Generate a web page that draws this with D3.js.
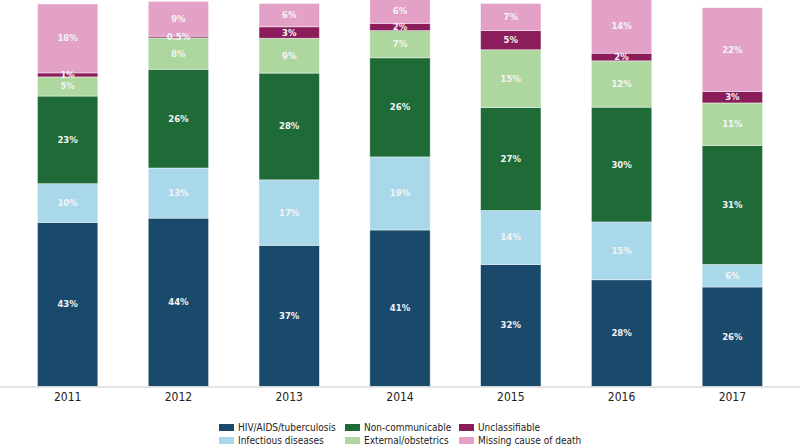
<!DOCTYPE html>
<html>
<head>
<meta charset="utf-8">
<script src="https://d3js.org/d3.v7.min.js"></script>
<style>
  body { margin: 0; background: #fff; }
  svg { display: block; font-family: "DejaVu Sans", Verdana, sans-serif; }
  .cond { font-family: "DejaVu Sans Condensed", "DejaVu Sans", sans-serif; font-stretch: condensed; }
</style>
</head>
<body>
<svg width="800" height="447"></svg>
<script>
var svg = d3.select("svg"),
    width = +svg.attr("width"),
    height = +svg.attr("height");

// data, share of deaths (%) per year
var years = ["2011", "2012", "2013", "2014", "2015", "2016", "2017"];
var causes = ["HIV/AIDS/tuberculosis", "Infectious diseases", "Non-communicable",
              "External/obstetrics", "Unclassifiable", "Missing cause of death"];
var hiv          = [42.9, 44.0, 36.9, 40.9, 31.9, 27.9, 26.0];
var infectious   = [10.1, 13.1, 17.1, 19.1, 14.1, 15.1, 5.9];
var noncomm      = [22.9, 25.8, 27.9, 25.9, 26.9, 30.0, 31.1];
var external     = [5.0, 8.2, 9.1, 7.1, 15.1, 12.1, 11.1];
var unclass      = [1.05, 0.45, 3.0, 1.9, 5.0, 2.0, 3.0];
var missing      = [18.0, 9.1, 6.1, 6.2, 7.1, 14.1, 21.9];
var labels = [
  ["43%", "44%", "37%", "41%", "32%", "28%", "26%"],
  ["10%", "13%", "17%", "19%", "14%", "15%", "6%"],
  ["23%", "26%", "28%", "26%", "27%", "30%", "31%"],
  ["5%", "8%", "9%", "7%", "15%", "12%", "11%"],
  ["1%", "0.5%", "3%", "2%", "5%", "2%", "3%"],
  ["18%", "9%", "6%", "6%", "7%", "14%", "22%"]
];
var colors = ["#1a4a6b", "#a9d8ea", "#1f6b38", "#add79e", "#8c1d5b", "#e3a1c7"];

var series_values = [hiv, infectious, noncomm, external, unclass, missing];

var table = years.map(function(y, i) {
  var row = { year: y };
  causes.forEach(function(c, k) { row[c] = series_values[k][i]; });
  return row;
});

var stacked = d3.stack().keys(causes)(table);

var x = d3.scaleBand()
    .domain(years)
    .range([0, width])
    .paddingInner(0.455)
    .paddingOuter(0.338);

var y = d3.scaleLinear()
    .domain([0, 101])
    .range([386.5, 0]);

var color = d3.scaleOrdinal().domain(causes).range(colors);

var layers = svg.append("g").attr("id", "bars")
    .selectAll("g")
    .data(stacked)
    .enter().append("g")
    .attr("fill", function(d) { return color(d.key); });

layers.selectAll("rect")
    .data(function(d) { return d; })
    .enter().append("rect")
    .attr("x", function(d) { return x(d.data.year); })
    .attr("y", function(d) { return y(d[1]); })
    .attr("width", x.bandwidth())
    .attr("height", function(d) { return y(d[0]) - y(d[1]); })
    .attr("stroke", "#ffffff")
    .attr("stroke-opacity", 0.55)
    .attr("stroke-width", 0.8);

// value labels
svg.append("g").attr("id", "labels")
    .selectAll("g")
    .data(stacked)
    .enter().append("g")
    .each(function(layer, k) {
      d3.select(this).selectAll("text")
        .data(layer)
        .enter().append("text")
        .attr("x", function(d) { return x(d.data.year) + x.bandwidth() / 2; })
        .attr("y", function(d) { return (y(d[0]) + y(d[1])) / 2; })
        .attr("dy", "0.35em")
        .attr("text-anchor", "middle")
        .attr("font-size", "8.5px")
        .attr("font-weight", "bold")
        .attr("fill", "#f4f4f4")
        .text(function(d, i) { return labels[k][i]; });
    });

// baseline
svg.append("line")
    .attr("x1", 0).attr("x2", width)
    .attr("y1", y(0) + 0.5).attr("y2", y(0) + 0.5)
    .attr("stroke", "#dcdcdc")
    .attr("stroke-width", 1.5);

// x axis
var xAxis = svg.append("g")
    .attr("transform", "translate(0," + (y(0) + 1) + ")")
    .call(d3.axisBottom(x).tickSize(0).tickPadding(5));
xAxis.select(".domain").remove();
xAxis.selectAll("text")
    .attr("class", "cond")
    .attr("font-size", "12px")
    .attr("fill", "#222");

// legend, column-major: HIV, Infectious | Non-comm, External | Unclass, Missing
var legendCols = [219, 345, 459];
var legendRows = [424, 437];
var legendOrder = [[0, 0], [0, 1], [1, 0], [1, 1], [2, 0], [2, 1]];

svg.append("g").attr("id", "legend")
    .selectAll("g")
    .data(causes)
    .enter().append("g")
    .each(function(c, i) {
      var pos = legendOrder[i];
      var g = d3.select(this)
          .attr("transform", "translate(" + legendCols[pos[0]] + "," + legendRows[pos[1]] + ")");
      g.append("rect")
          .attr("width", 15)
          .attr("height", 7)
          .attr("fill", color(c));
      g.append("text")
          .attr("class", "cond")
          .attr("x", 19)
          .attr("y", 3.5)
          .attr("dy", "0.35em")
          .attr("font-size", "10px")
          .attr("fill", "#222")
          .text(c);
    });
</script>
</body>
</html>
